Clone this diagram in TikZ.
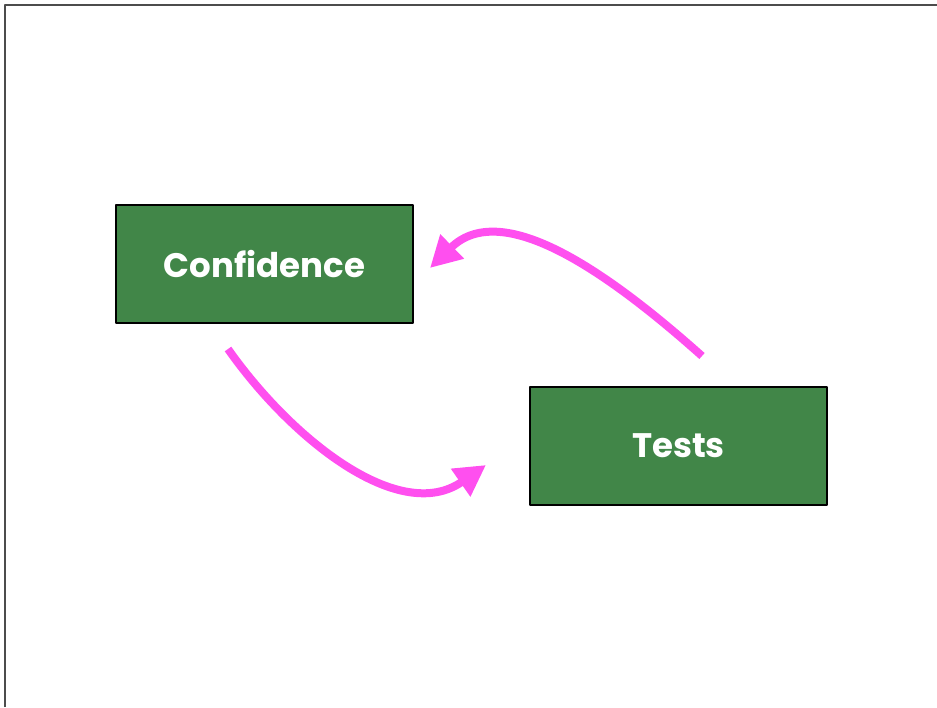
\documentclass[tikz,border=0pt]{standalone}
\usepackage{fontspec}
\newfontfamily\stagefont{Poppins}
\usetikzlibrary{arrows.meta}
\definecolor{boxgreen}{HTML}{418648}
\definecolor{loopmagenta}{HTML}{FF4FEF}

\begin{document}
\begin{tikzpicture}[x=1pt,y=-1pt,line cap=butt,line join=round,
  stage/.style={draw=black,line width=2pt,fill=boxgreen,minimum width=297pt,minimum height=118pt,
    inner sep=0pt,text=white,font=\stagefont\fontsize{34}{40}\selectfont\bfseries},
  loop/.style={draw=loopmagenta,line width=8pt,-{Triangle[length=31pt,width=32pt]}}]
\useasboundingbox (0,0) rectangle (937,707);
\draw[line width=1.5pt,gray!60!black] (5,707) -- (5,5) -- (937,5);
\node[stage] (conf) at (264.5,264) {Confidence};
\node[stage] (tests) at (678.5,446) {Tests};
\draw[loop] ([xshift=-36.5pt,yshift=-25pt]conf.south) .. controls (292,440) and (400,525) .. ([xshift=-43pt,yshift=-19pt]tests.west);
\draw[loop] ([xshift=23.5pt,yshift=30pt]tests.north) .. controls (600,265) and (500,200) .. ([xshift=16pt,yshift=-4pt]conf.east);
\end{tikzpicture}
\end{document}
